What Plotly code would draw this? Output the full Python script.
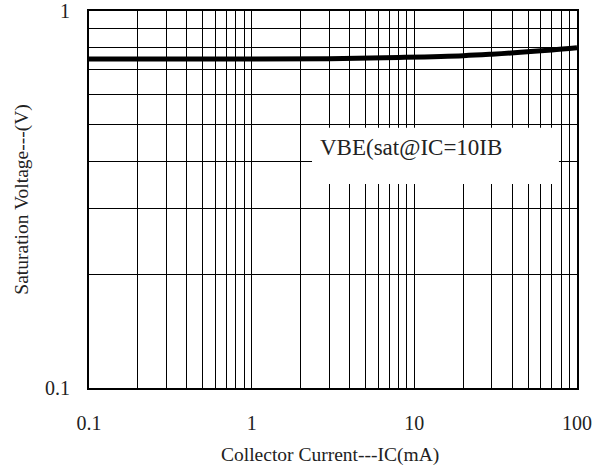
import plotly.graph_objects as go

# Data
ic_ma = [0.1, 0.3, 1, 3, 8, 20, 30, 45, 70, 100]
vbe_sat = [0.746, 0.746, 0.746, 0.747, 0.753, 0.761, 0.768, 0.777, 0.788, 0.799]

x_grid = [m * 10**e for e in (-1, 0, 1) for m in range(1, 10)] + [100]
x_labels = {0.1: "0.1", 1: "1", 10: "10", 100: "100"}
y_grid = [m / 10 for m in range(1, 11)]
y_labels = {0.1: "0.1", 1.0: "1"}

FONT = "Liberation Serif"

fig = go.Figure()
fig.add_trace(go.Scatter(
    x=ic_ma, y=vbe_sat, mode="lines",
    line=dict(color="black", width=5, shape="spline"),
    showlegend=False, hoverinfo="skip",
))

def lab(v, d):
    for k, t in d.items():
        if abs(v - k) < 1e-9:
            return t
    return ""

fig.update_xaxes(
    type="log", range=[-1, 2], automargin=False,
    tickmode="array", tickvals=x_grid, ticktext=[lab(v, x_labels) for v in x_grid],
    showgrid=True, gridcolor="black", gridwidth=1,
    showline=True, linecolor="black", linewidth=2, mirror=True,
    ticks="", ticklabelstandoff=16,
    tickfont=dict(family=FONT, size=20, color="#222"),
    zeroline=False,
)
fig.update_yaxes(
    type="log", range=[-1, 0], automargin=False,
    tickmode="array", tickvals=y_grid, ticktext=[lab(v, y_labels) for v in y_grid],
    showgrid=True, gridcolor="black", gridwidth=1,
    showline=True, linecolor="black", linewidth=2, mirror=True,
    ticks="", ticklabelstandoff=13,
    tickfont=dict(family=FONT, size=20, color="#222"),
    zeroline=False,
)

fig.add_shape(type="rect", xref="paper", yref="paper",
              x0=0.457, x1=0.963, y0=0.541, y1=0.690,
              fillcolor="white", line=dict(width=0), layer="above")

fig.add_annotation(xref="paper", yref="paper", x=0.469, y=0.637,
                   xanchor="left", yanchor="middle", showarrow=False,
                   text="VBE(sat@IC=10IB",
                   font=dict(family=FONT, size=23, color="#222"))

fig.add_annotation(xref="paper", yref="paper", x=0.493, y=-0.178,
                   xanchor="center", yanchor="middle", showarrow=False,
                   text="Collector Current---IC(mA)",
                   font=dict(family=FONT, size=19.5, color="#222"))
fig.add_annotation(xref="paper", yref="paper", x=-0.139, y=0.5,
                   xanchor="center", yanchor="middle", showarrow=False,
                   textangle=-90,
                   text="Saturation Voltage---(V)",
                   font=dict(family=FONT, size=19.5, color="#222"))

fig.update_layout(
    width=602, height=470,
    margin=dict(l=89, r=25, t=11, b=82),
    plot_bgcolor="white", paper_bgcolor="white",
)

fig.write_html("out.html", config={"displayModeBar": False},
               post_script="document.body.style.margin='0';")
